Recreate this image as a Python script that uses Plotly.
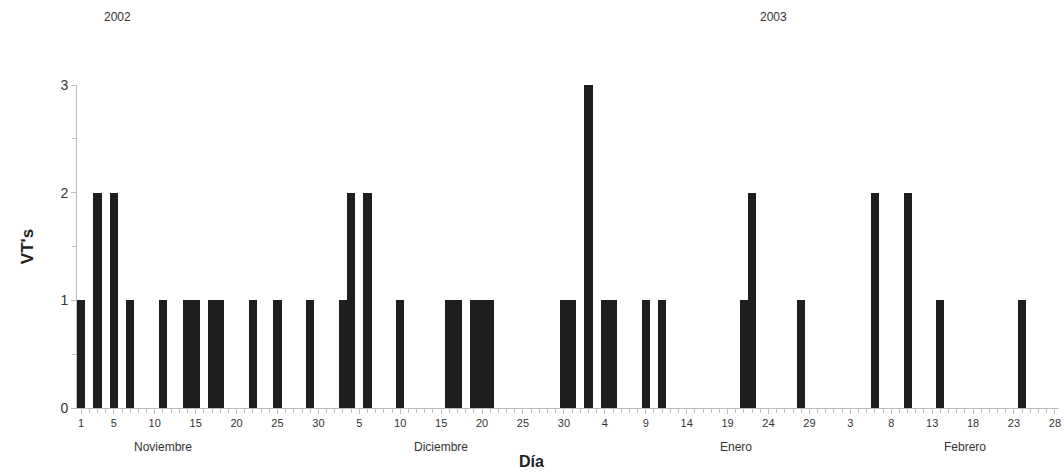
import pandas as pd
import plotly.graph_objects as go

# Daily VT counts, 1 Nov 2002 - 28 Feb 2003 (days without events are zero)
event_dates = [
    "2002-11-01", "2002-11-03", "2002-11-05", "2002-11-07", "2002-11-11",
    "2002-11-14", "2002-11-15", "2002-11-17", "2002-11-18", "2002-11-22",
    "2002-11-25", "2002-11-29", "2002-12-03", "2002-12-04", "2002-12-06",
    "2002-12-10", "2002-12-16", "2002-12-17", "2002-12-19", "2002-12-20",
    "2002-12-21", "2002-12-30", "2002-12-31", "2003-01-02", "2003-01-04",
    "2003-01-05", "2003-01-09", "2003-01-11", "2003-01-21", "2003-01-22",
    "2003-01-28", "2003-02-06", "2003-02-10", "2003-02-14", "2003-02-24",
]
vt_counts = [
    1, 2, 2, 1, 1,
    1, 1, 1, 1, 1,
    1, 1, 1, 2, 2,
    1, 1, 1, 1, 1,
    1, 1, 1, 3, 1,
    1, 1, 1, 1, 2,
    1, 2, 2, 1, 1,
]
start_date = "2002-11-01"
end_date = "2003-02-28"
labelled_days = [
    "2002-11-01", "2002-11-05", "2002-11-10", "2002-11-15", "2002-11-20",
    "2002-11-25", "2002-11-30", "2002-12-05", "2002-12-10", "2002-12-15",
    "2002-12-20", "2002-12-25", "2002-12-30", "2003-01-04", "2003-01-09",
    "2003-01-14", "2003-01-19", "2003-01-24", "2003-01-29", "2003-02-03",
    "2003-02-08", "2003-02-13", "2003-02-18", "2003-02-23", "2003-02-28",
]
month_names = ["Noviembre", "Diciembre", "Enero", "Febrero"]
month_centers = ["2002-11-11", "2002-12-15", "2003-01-20", "2003-02-17"]
year_names = ["2002", "2003"]

days = pd.date_range(start_date, end_date, freq="D")
t0 = pd.Timestamp(start_date)


def day_index(d):
    return (pd.Timestamp(d) - t0).days


counts = pd.Series(0, index=days)
counts.loc[pd.to_datetime(event_dates)] = vt_counts
x_idx = [(d - t0).days for d in days]

FONT = "Arial, Liberation Sans, sans-serif"
GRID = "#bdbdbd"

fig = go.Figure()
fig.add_trace(go.Bar(
    x=x_idx,
    y=counts.values,
    width=1.0,
    marker=dict(color="#1e1e1e", line=dict(width=0)),
    showlegend=False,
))

fig.update_layout(
    width=1064,
    height=473,
    margin=dict(l=77, r=3, t=85, b=65),
    paper_bgcolor="white",
    plot_bgcolor="white",
    bargap=0,
    font=dict(family=FONT, color="#333333"),
    xaxis=dict(
        range=[-0.5, len(days) - 0.5],
        tickmode="array",
        tickvals=[day_index(d) for d in labelled_days],
        ticktext=[str(pd.Timestamp(d).day) for d in labelled_days],
        ticks="outside",
        ticklen=5,
        tickcolor=GRID,
        tickfont=dict(size=11, color="#333333"),
        showline=True,
        linecolor=GRID,
        linewidth=1,
        showgrid=False,
        zeroline=False,
        minor=dict(dtick=1, tick0=0, ticks="outside", ticklen=4, tickcolor=GRID, showgrid=False),
    ),
    yaxis=dict(
        range=[0, 3],
        tickmode="array",
        tickvals=[0, 1, 2, 3],
        ticks="outside",
        ticklen=5,
        tickcolor=GRID,
        tickfont=dict(size=14, color="#333333"),
        showline=True,
        linecolor=GRID,
        linewidth=1,
        showgrid=False,
        zeroline=False,
        minor=dict(dtick=0.5, tick0=0, ticks="outside", ticklen=4, tickcolor=GRID, showgrid=False),
        title=dict(text="<b>VT's</b>", font=dict(size=17, color="#222222"), standoff=22),
    ),
)

for name, pos in zip(month_names, month_centers):
    fig.add_annotation(
        x=day_index(pos), y=-0.122, xref="x", yref="paper",
        xanchor="center", yanchor="middle",
        text=name, showarrow=False, font=dict(size=12, color="#333333"),
    )

for name, xp in zip(year_names, [0.0417, 0.709]):
    fig.add_annotation(
        x=xp, y=1.21, xref="paper", yref="paper",
        xanchor="center", yanchor="middle",
        text=name, showarrow=False, font=dict(size=12, color="#333333"),
    )

fig.add_annotation(
    x=0.463, y=-0.167, xref="paper", yref="paper",
    xanchor="center", yanchor="middle",
    text="<b>Día</b>", showarrow=False, font=dict(size=16, color="#222222"),
)

fig.write_html("out.html")
